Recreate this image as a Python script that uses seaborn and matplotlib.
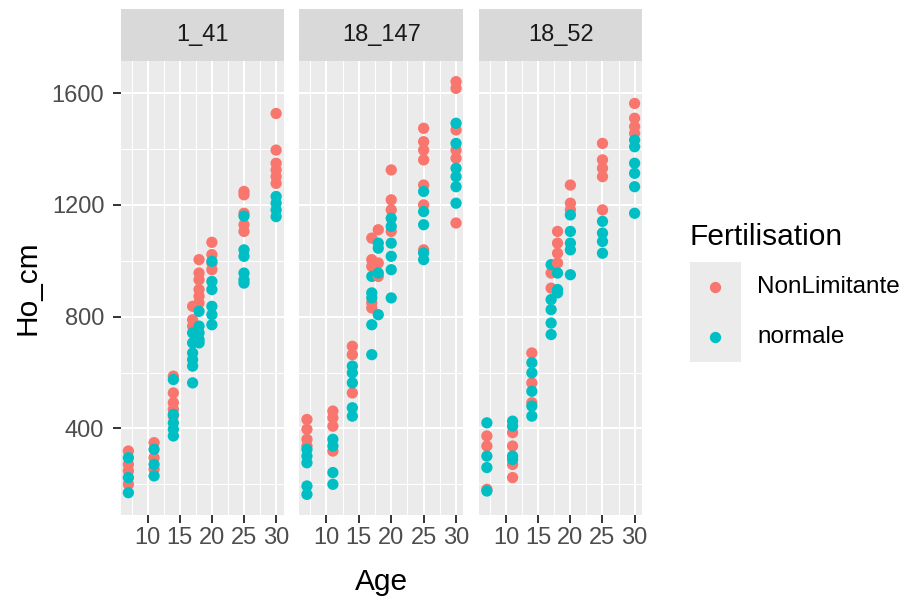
import numpy as np
import pandas as pd
import matplotlib
matplotlib.use("Agg")
import matplotlib.pyplot as plt
import seaborn as sns
from matplotlib.patches import Rectangle
from matplotlib.ticker import FixedLocator

plt.rcParams['font.family'] = ['Liberation Sans', 'DejaVu Sans']

# ---------------- data ----------------
ages = [7, 11, 14, 17, 18, 20, 25, 30]
panels = ['1_41', '18_147', '18_52']
groups = ['NonLimitante', 'normale']
colors = ['#F8766D', '#00BFC4']
y_ticks = [400, 800, 1200, 1600]
x_ticks = [10, 15, 20, 25, 30]

ho_1_41_nonlim = [[319, 271, 248, 200], [349, 295, 254], [587, 527, 492, 468, 444],
                  [837, 789, 766], [1004, 956, 932, 897, 873, 849], [1066, 1022, 992, 968],
                  [1248, 1236, 1170, 1129, 1105], [1527, 1396, 1349, 1325, 1301, 1277]]
ho_1_41_normale = [[295, 224, 170], [325, 271, 230], [575, 450, 420, 397, 373],
                   [742, 706, 670, 646, 623, 563], [819, 766, 742, 718, 706],
                   [998, 926, 897, 837, 807, 771], [1160, 1039, 1016, 956, 932, 920],
                   [1230, 1206, 1182, 1158]]

ho_18_147_nonlim = [[432, 397, 361, 337], [462, 438, 408, 319], [694, 664, 527],
                    [1081, 1004, 980, 849, 831], [1111, 992, 944], [1325, 1218, 1182, 1105],
                    [1474, 1426, 1396, 1361, 1271, 1200, 1039], [1641, 1617, 1468, 1396, 1367, 1135]]
ho_18_147_normale = [[325, 301, 277, 194, 164], [361, 337, 242, 200], [623, 599, 563, 474, 444],
                     [944, 885, 867, 771, 664], [1063, 1045, 956, 807],
                     [1152, 1123, 1063, 1016, 968, 867], [1248, 1176, 1129, 1028, 1004],
                     [1492, 1420, 1331, 1301, 1265, 1206]]

ho_18_52_nonlim = [[373, 337, 182], [385, 337, 271, 224], [670, 563, 492], [956, 902],
                   [1105, 1063, 1027, 992], [1271, 1206, 1182],
                   [1420, 1361, 1331, 1301, 1182], [1563, 1510, 1480, 1456]]
ho_18_52_normale = [[420, 301, 260, 176], [426, 408, 301, 289], [635, 599, 533, 480, 444],
                    [986, 861, 825, 777, 736], [956, 897, 885], [1164, 1105, 1063, 1039, 950],
                    [1141, 1099, 1069, 1027], [1432, 1408, 1349, 1313, 1265, 1170]]

panel_data = {
    '1_41': (ho_1_41_nonlim, ho_1_41_normale),
    '18_147': (ho_18_147_nonlim, ho_18_147_normale),
    '18_52': (ho_18_52_nonlim, ho_18_52_normale),
}

rows = []
for p in panels:
    nl, no = panel_data[p]
    for age, a, b in zip(ages, nl, no):
        for v in a:
            rows.append((p, age, groups[0], v))
        for v in b:
            rows.append((p, age, groups[1], v))
df = pd.DataFrame(rows, columns=['Placette', 'Age', 'Fertilisation', 'Ho_cm'])

# ---------------- layout ----------------
W, H = 912, 599
fig = plt.figure(figsize=(W / 100, H / 100), dpi=100)

panel_x = [(121, 283.5), (299.5, 463.5), (479.5, 642)]
p_top, p_bot = 61, 515
strip_top = 9
pt_size = 66

xmin, xmax = df.Age.min(), df.Age.max()
xr = xmax - xmin
ymin, ymax = df.Ho_cm.min(), df.Ho_cm.max()
yr = ymax - ymin

palette = dict(zip(groups, colors))

for i, (p, (l, r)) in enumerate(zip(panels, panel_x)):
    ax = fig.add_axes([l / W, 1 - p_bot / H, (r - l) / W, (p_bot - p_top) / H])
    ax.set_facecolor('#EBEBEB')
    sub = df[df.Placette == p]
    sns.scatterplot(data=sub, x='Age', y='Ho_cm', hue='Fertilisation', palette=palette,
                    hue_order=groups, s=pt_size, linewidth=0, legend=False, ax=ax, zorder=3)
    ax.set_xlim(xmin - 0.05 * xr, xmax + 0.05 * xr)
    ax.set_ylim(ymin - 0.05 * yr, ymax + 0.05 * yr)
    ax.xaxis.set_major_locator(FixedLocator(x_ticks))
    ax.xaxis.set_minor_locator(FixedLocator([7.5, 12.5, 17.5, 22.5, 27.5]))
    ax.yaxis.set_major_locator(FixedLocator(y_ticks))
    ax.yaxis.set_minor_locator(FixedLocator([200, 600, 1000, 1400]))
    ax.grid(True, which='major', color='white', lw=1.5, zorder=1)
    ax.grid(True, which='minor', color='white', lw=0.75, zorder=1)
    ax.set_axisbelow(True)
    for s in ax.spines.values():
        s.set_visible(False)
    ax.tick_params(which='major', length=5.5, width=1.4, color='#333333',
                   labelcolor='#4D4D4D', labelsize=17)
    ax.tick_params(axis='x', which='major', pad=3.5)
    ax.tick_params(axis='y', which='major', pad=6.5)
    ax.tick_params(which='minor', length=0)
    ax.set_xlabel('')
    ax.set_ylabel('')
    if i > 0:
        ax.tick_params(axis='y', which='both', left=False, labelleft=False)

    # strip
    sax = fig.add_axes([l / W, 1 - p_top / H, (r - l) / W, (p_top - strip_top) / H])
    sax.set_facecolor('#D9D9D9')
    sax.set_xticks([])
    sax.set_yticks([])
    for s in sax.spines.values():
        s.set_visible(False)
    sax.text(0.5, 0.5, p, ha='center', va='center', fontsize=17, color='#1A1A1A',
             transform=sax.transAxes)

# overlay in pixel coordinates
ov = fig.add_axes([0, 0, 1, 1], facecolor='none')
ov.set_xlim(0, W)
ov.set_ylim(H, 0)
ov.axis('off')

ov.text(28, (p_top + p_bot) / 2, 'Ho_cm', rotation=90, ha='center', va='center',
        fontsize=21.5, color='black')
ov.text((121 + 642) / 2, 590, 'Age', ha='center', va='baseline', fontsize=21.5, color='black')

# legend
ov.text(690, 245, 'Fertilisation', ha='left', va='baseline', fontsize=21.5, color='black')
key_x, key_w, key_h, key_top = 690, 50.7, 50.3, 261.7
for j, (g, c) in enumerate(zip(groups, colors)):
    yk = key_top + j * key_h
    ov.add_patch(Rectangle((key_x, yk), key_w, key_h, facecolor='#EBEBEB', edgecolor='none'))
    ov.scatter([key_x + key_w / 2], [yk + key_h / 2], s=pt_size, color=c, linewidth=0, zorder=3)
    ov.text(757, yk + key_h / 2, g, ha='left', va='center', fontsize=17.5, color='black')

fig.savefig('out.png', dpi=100)
